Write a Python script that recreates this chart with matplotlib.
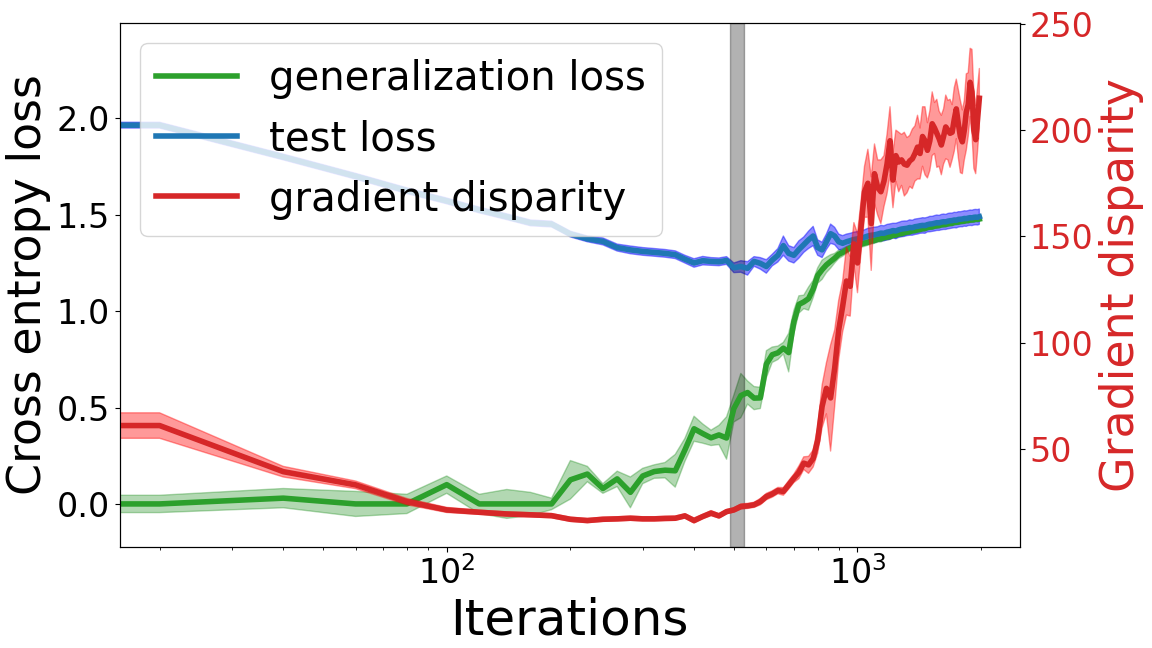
import numpy as np
import matplotlib
matplotlib.use("Agg")
import matplotlib.pyplot as plt

# ---------------- data ----------------
iterations = np.arange(0, 2000, 20)  # evaluation grid: 0, 20, ..., 1980

gen_loss = [0.0, 0.0, 0.03, 0.0, 0.0, 0.10, 0.0, 0.0, 0.0, 0.0,
            0.125, 0.155, 0.08, 0.13, 0.06, 0.145, 0.168, 0.175, 0.172, 0.28,
            0.39, 0.365, 0.343, 0.358, 0.342, 0.495, 0.562, 0.578, 0.549, 0.55,
            0.725, 0.774, 0.784, 0.808, 0.785, 0.945, 1.035, 1.048, 1.065, 1.115,
            1.185, 1.215, 1.24, 1.258, 1.275, 1.295, 1.305, 1.318, 1.328, 1.335,
            1.342, 1.348, 1.353, 1.357, 1.364, 1.367, 1.373, 1.375, 1.381, 1.384,
            1.387, 1.393, 1.395, 1.401, 1.402, 1.407, 1.41, 1.412, 1.417, 1.418,
            1.422, 1.424, 1.428, 1.429, 1.434, 1.436, 1.437, 1.441, 1.443, 1.444,
            1.448, 1.449, 1.45, 1.453, 1.455, 1.456, 1.46, 1.461, 1.462, 1.465,
            1.466, 1.467, 1.47, 1.47, 1.473, 1.473, 1.474, 1.477, 1.476, 1.478]
gen_std = [0.045, 0.045, 0.05, 0.065, 0.05, 0.045, 0.05, 0.075, 0.06, 0.03,
           0.10, 0.04, 0.025, 0.04, 0.08, 0.04, 0.035, 0.04, 0.085, 0.06,
           0.065, 0.05, 0.04, 0.05, 0.11, 0.07, 0.115, 0.06, 0.06, 0.055,
           0.07, 0.04, 0.035, 0.03, 0.10, 0.06, 0.045, 0.035, 0.06, 0.045,
           0.04, 0.05, 0.04, 0.035, 0.025, 0.022, 0.02, 0.018, 0.018, 0.017,
           0.016, 0.016, 0.017, 0.015, 0.016, 0.015, 0.015, 0.016, 0.014, 0.015,
           0.015, 0.014, 0.015, 0.014, 0.014, 0.015, 0.013, 0.014, 0.014, 0.013,
           0.014, 0.013, 0.013, 0.014, 0.013, 0.013, 0.012, 0.013, 0.013, 0.012,
           0.013, 0.012, 0.013, 0.012, 0.012, 0.013, 0.012, 0.012, 0.012, 0.013,
           0.012, 0.012, 0.012, 0.012, 0.013, 0.012, 0.012, 0.012, 0.012, 0.012]

test_loss = [1.965, 1.965, 1.80, 1.70, 1.625, 1.572, 1.525, 1.49, 1.458, 1.452,
             1.40, 1.375, 1.362, 1.33, 1.318, 1.31, 1.305, 1.30, 1.293, 1.27,
             1.25, 1.262, 1.258, 1.256, 1.263, 1.225, 1.232, 1.222, 1.258, 1.248,
             1.232, 1.265, 1.29, 1.34, 1.30, 1.29, 1.32, 1.345, 1.37, 1.39,
             1.33, 1.318, 1.36, 1.402, 1.39, 1.36, 1.352, 1.36, 1.366, 1.372,
             1.375, 1.379, 1.384, 1.39, 1.394, 1.396, 1.40, 1.405, 1.404, 1.41,
             1.413, 1.418, 1.416, 1.422, 1.426, 1.428, 1.43, 1.434, 1.433, 1.438,
             1.44, 1.443, 1.445, 1.444, 1.449, 1.452, 1.453, 1.456, 1.459, 1.458,
             1.462, 1.464, 1.463, 1.467, 1.469, 1.47, 1.473, 1.472, 1.476, 1.477,
             1.478, 1.481, 1.48, 1.483, 1.485, 1.484, 1.487, 1.488, 1.487, 1.49]
test_std = [0.015, 0.015, 0.015, 0.015, 0.015, 0.015, 0.015, 0.015, 0.015, 0.015,
            0.015, 0.015, 0.018, 0.018, 0.02, 0.02, 0.02, 0.02, 0.02, 0.02,
            0.022, 0.022, 0.02, 0.02, 0.02, 0.025, 0.03, 0.035, 0.025, 0.03,
            0.035, 0.03, 0.035, 0.05, 0.04, 0.04, 0.045, 0.04, 0.045, 0.05,
            0.04, 0.04, 0.04, 0.05, 0.045, 0.04, 0.04, 0.04, 0.038, 0.038,
            0.038, 0.04, 0.038, 0.04, 0.039, 0.04, 0.038, 0.04, 0.039, 0.04,
            0.04, 0.038, 0.04, 0.039, 0.04, 0.04, 0.038, 0.04, 0.039, 0.04,
            0.04, 0.039, 0.04, 0.04, 0.038, 0.04, 0.039, 0.04, 0.04, 0.039,
            0.04, 0.04, 0.039, 0.04, 0.04, 0.039, 0.04, 0.04, 0.04, 0.039,
            0.04, 0.04, 0.04, 0.039, 0.04, 0.04, 0.04, 0.04, 0.04, 0.04]

grad_disp = [61, 61, 39.3, 33.1, 25.2, 21.3, 20.2, 19.4, 19.0, 18.6,
             16.9, 16.3, 16.9, 17.1, 17.4, 17.1, 17.1, 17.3, 17.4, 18.5,
             16.3, 18.2, 19.8, 18.5, 20.5, 21.3, 22.9, 23.2, 23.7, 25.2,
             27.6, 28.8, 30.4, 30.0, 33.1, 36.2, 39.0, 43.3, 42.5, 45.5,
             54, 70, 78.5, 74, 88, 106, 117, 129, 126.5, 146.5,
             137.5, 154.5, 171, 175, 156, 179.5, 173, 171, 176, 184,
             195, 176.5, 188, 185, 186, 184, 183.5, 185.5, 186.5, 189,
             192, 189, 197, 195, 190.5, 195, 203, 201, 198.5, 196,
             193, 197, 201.5, 200, 198.5, 199, 205, 210, 203, 197,
             194.5, 200, 208.5, 212, 222.5, 218, 200, 195.5, 205, 215]
grad_std = [6, 6, 2.5, 1.8, 1.5, 1.2, 1.0, 1.0, 1.0, 1.0,
            1.0, 1.0, 1.0, 1.0, 1.0, 1.0, 1.0, 1.0, 1.0, 1.0,
            1.2, 1.0, 1.2, 1.0, 1.0, 1.0, 1.2, 1.2, 1.2, 1.5,
            1.5, 1.5, 1.5, 1.8, 2.0, 2.0, 3.0, 3.0, 4.0, 4.0,
            6, 10, 12, 25, 18, 14, 12, 16, 14, 10,
            14, 12, 12, 16, 22, 14, 13, 15, 12, 14,
            16, 13, 12, 14, 12, 15, 13, 12, 14, 13,
            15, 12, 14, 16, 13, 14, 15, 12, 16, 13,
            14, 13, 15, 14, 16, 13, 15, 14, 16, 17,
            15, 14, 18, 15, 16, 20, 18, 16, 15, 14]

span_range = (490, 530)

labels = ["generalization loss", "test loss", "gradient disparity"]

# ---------------- plot ----------------
gen_loss = np.array(gen_loss); gen_std = np.array(gen_std)
test_loss = np.array(test_loss); test_std = np.array(test_std)
grad_disp = np.array(grad_disp, dtype=float); grad_std = np.array(grad_std, dtype=float)

fig = plt.figure(figsize=(11.52, 6.48), dpi=100)
ax = fig.add_axes([0.104, 0.156, 0.781, 0.8085])
ax2 = ax.twinx()

c_green = "#2ca02c"
c_blue = "#1f77b4"
c_red = "#d62728"
lw = 4

l1, = ax.plot(iterations, gen_loss, color=c_green, lw=lw, label=labels[0])
ax.fill_between(iterations, gen_loss - gen_std, gen_loss + gen_std,
                color="green", alpha=0.3, lw=1)
l2, = ax.plot(iterations, test_loss, color=c_blue, lw=lw, label=labels[1])
ax.fill_between(iterations, test_loss - test_std, test_loss + test_std,
                color="blue", alpha=0.45, lw=1)
ax.axvspan(span_range[0], span_range[1], color="k", alpha=0.3)

l3, = ax2.plot(iterations, grad_disp, color=c_red, lw=lw, label=labels[2])
ax2.fill_between(iterations, grad_disp - grad_std, grad_disp + grad_std,
                 color="red", alpha=0.4, lw=1)

ax.set_xscale("log")
ax.set_xlim(16.0, 2480)
ax.set_ylim(-0.223, 2.495)
ax2.set_ylim(3.9, 250.4)
ax2.set_yticks([50, 100, 150, 200, 250])

ax.set_xlabel("Iterations", fontsize=36)
ax.set_ylabel("Cross entropy loss", fontsize=33)
ax2.set_ylabel("Gradient disparity", fontsize=33, color=c_red)
ax.tick_params(axis="both", which="major", labelsize=24)
ax2.tick_params(axis="y", labelsize=24, labelcolor=c_red)

ax.legend(handles=[l1, l2, l3], loc="upper left", fontsize=29)

fig.savefig("out.png", dpi=100)
